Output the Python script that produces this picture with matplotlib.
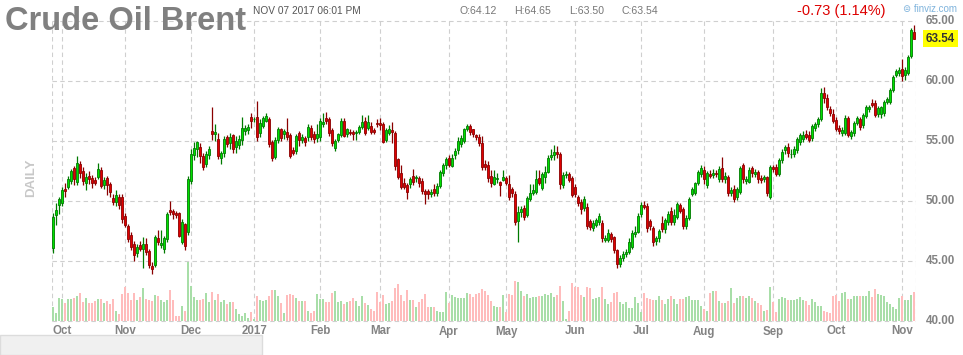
import numpy as np
import pandas as pd
import matplotlib
matplotlib.use('Agg')
import matplotlib.pyplot as plt
from matplotlib.patches import Rectangle

plt.rcParams['font.family'] = ['Liberation Sans', 'DejaVu Sans']

# daily candles, Sep 28 2016 .. Nov 7 2017 (ICE closed Dec 26 and Good Friday)
holidays = ['2016-12-26', '2017-04-14']

opens = [
    46.06, 48.83, 49.67,
    49.86, 50.97, 51.14, 51.69, 52.72, 51.56, 53.08, 52.50, 51.47, 52.08, 51.90, 51.75, 52.03, 52.58, 51.33, 51.90, 51.39, 50.28, 49.94, 50.36, 50.30,
    48.75, 47.92, 47.17, 46.42, 45.64, 46.33, 45.97, 46.42, 45.83, 44.58, 44.67, 46.94, 46.36, 45.97, 46.80, 49.25, 49.20, 48.97, 48.97, 46.61, 48.06, 47.39,
    51.67, 53.83, 54.30, 54.47, 53.78, 53.08, 53.83, 55.83, 55.56, 55.14, 53.60, 53.97, 55.36, 54.80, 55.47, 54.53, 54.67, 55.08, 55.86, 55.90, 56.97,
    56.80, 56.97, 55.64, 56.25, 56.70, 56.80, 54.95, 53.69, 55.08, 55.97, 55.56, 55.78, 55.50, 54.25, 54.19, 55.64, 55.08, 55.22, 55.30, 56.06, 55.56, 55.22,
    55.36, 56.39, 56.89, 56.80, 55.92, 54.39, 55.08, 55.50, 56.67, 55.55, 55.78, 55.72, 55.64, 55.78, 56.14, 56.69, 56.06, 56.25, 55.92, 56.53,
    56.47, 56.39, 55.08, 55.64, 55.92, 55.64, 53.47, 52.31, 51.47, 51.33, 51.39, 52.08, 51.89, 51.89, 51.67, 50.83, 50.83, 50.58, 51.00, 50.64, 51.28, 52.30, 53.00,
    53.61, 52.92, 53.86, 54.25, 54.75, 55.03, 55.97, 56.25, 55.97, 55.50, 55.36, 54.80, 53.08, 53.00, 52.08, 51.42, 51.80, 51.60, 51.75,
    51.94, 51.42, 50.99, 50.58, 48.36, 49.11, 49.44, 48.86, 50.14, 50.69, 50.78, 51.89, 51.06, 52.00, 52.44, 53.70, 53.83, 54.11, 53.90, 51.33, 52.17, 52.25, 51.90,
    51.19, 50.30, 49.94, 49.40, 49.50, 48.30, 47.72, 48.00, 48.28, 48.14, 46.75, 46.75, 47.22, 46.97, 45.90, 44.75, 45.22, 45.60, 45.78, 46.20, 47.25, 47.45,
    48.92, 49.67, 49.60, 48.33, 47.72, 46.69, 46.89, 48.19, 47.64, 48.28, 49.17, 48.28, 48.64, 49.67, 49.30, 47.92, 48.55, 50.58, 50.70, 51.47, 52.25,
    52.60, 51.33, 52.25, 52.17, 52.36, 51.80, 52.72, 51.80, 52.00, 50.64, 50.97, 50.30, 50.78, 53.00, 51.65, 51.60, 52.72, 52.22, 52.39, 51.90, 51.80, 51.97, 50.36,
    52.80, 52.80, 52.25, 53.42, 54.25, 54.53, 53.90, 53.95, 54.25, 54.94, 55.14, 55.55, 55.50, 55.22, 56.06, 56.42, 56.80, 59.03, 58.60, 57.64, 57.25,
    56.75, 56.05, 55.69, 55.64, 56.94, 55.42, 55.64, 56.47, 56.80, 56.33, 57.08, 57.64, 58.14, 58.19, 57.22, 57.25, 57.30, 58.28, 58.28, 59.25, 60.50, 60.64,
    60.97, 60.50, 60.70, 62.08, 64.12,
]

highs = [
    48.97, 49.80, 50.36,
    51.20, 51.50, 52.10, 52.70, 52.90, 53.75, 53.30, 52.80, 52.30, 52.50, 52.20, 52.00, 53.15, 52.80, 52.00, 52.10, 51.60, 50.60, 50.90, 50.60, 50.60,
    49.00, 48.10, 47.40, 46.70, 46.40, 46.70, 47.00, 46.90, 46.00, 44.90, 47.20, 47.60, 47.60, 47.10, 49.10, 50.00, 49.30, 49.20, 49.10, 48.50, 48.20, 52.10,
    54.30, 54.90, 55.00, 54.80, 54.00, 54.20, 54.60, 57.80, 56.40, 55.70, 54.20, 55.40, 55.50, 55.70, 55.60, 55.40, 55.50, 57.00, 56.30, 56.40, 57.30,
    57.00, 58.30, 56.80, 57.10, 57.30, 57.00, 55.10, 55.30, 56.20, 56.10, 56.00, 56.90, 55.70, 54.50, 55.60, 55.80, 55.60, 55.40, 56.40, 56.30, 55.80, 56.40,
    56.90, 57.30, 57.40, 57.00, 56.10, 55.20, 55.70, 56.90, 56.90, 56.10, 56.00, 55.90, 55.90, 56.30, 57.20, 57.00, 57.20, 56.60, 56.10, 56.80,
    56.90, 56.60, 56.10, 56.30, 56.60, 55.80, 53.60, 53.00, 51.90, 51.50, 52.00, 52.70, 52.20, 52.10, 51.90, 51.00, 51.00, 51.00, 51.40, 51.50, 52.60, 53.20, 53.70,
    53.80, 53.90, 54.40, 55.30, 55.50, 56.10, 56.40, 56.40, 56.00, 55.60, 55.60, 55.40, 53.40, 53.30, 52.60, 52.60, 52.30, 51.70, 52.60,
    52.10, 52.20, 51.20, 50.80, 49.60, 49.60, 49.70, 50.40, 51.40, 51.40, 52.60, 52.60, 52.40, 52.90, 53.80, 54.30, 54.70, 54.60, 54.10, 52.40, 52.50, 52.40, 52.10,
    51.40, 50.50, 50.20, 50.40, 49.80, 48.50, 48.40, 48.60, 49.00, 48.40, 47.20, 47.70, 47.40, 47.10, 46.00, 45.50, 45.80, 46.00, 46.90, 47.60, 47.90, 49.00,
    49.90, 50.00, 49.80, 48.50, 47.90, 47.10, 47.70, 48.75, 48.60, 49.20, 49.50, 49.30, 49.90, 49.80, 49.50, 48.80, 50.30, 51.20, 51.60, 52.60, 53.00,
    52.90, 52.50, 52.60, 52.70, 52.60, 52.90, 53.70, 52.40, 52.20, 51.20, 51.30, 51.20, 52.90, 53.20, 52.10, 52.80, 52.90, 52.70, 52.60, 52.20, 52.20, 52.10, 53.00,
    53.00, 53.10, 53.60, 54.30, 54.70, 54.80, 54.30, 54.60, 55.30, 55.70, 55.80, 55.90, 55.80, 56.40, 56.60, 57.00, 59.40, 59.50, 58.90, 57.90, 57.70,
    57.00, 56.30, 56.20, 57.20, 57.10, 55.90, 56.70, 57.10, 57.00, 57.30, 58.00, 58.00, 58.50, 58.40, 57.90, 57.90, 58.40, 58.70, 59.40, 60.50, 61.00, 61.20,
    61.80, 61.20, 62.20, 64.40, 64.65,
]

lows = [
    45.70, 48.00, 48.90,
    49.60, 50.30, 51.00, 51.40, 51.30, 51.30, 51.90, 51.30, 50.90, 51.40, 51.10, 51.30, 51.80, 51.10, 51.00, 50.50, 50.30, 49.70, 49.60, 49.30, 48.20,
    47.80, 46.60, 45.90, 45.00, 45.30, 45.80, 44.40, 45.50, 44.40, 43.90, 44.50, 46.30, 46.10, 45.70, 46.60, 48.80, 48.50, 48.60, 47.00, 46.40, 45.90, 47.20,
    51.40, 53.40, 53.70, 53.20, 52.60, 52.80, 53.50, 55.10, 55.00, 53.50, 53.10, 53.70, 54.50, 54.30, 54.00, 54.00, 54.30, 54.70, 55.50, 55.60, 56.10,
    56.60, 55.00, 55.30, 56.10, 56.60, 54.50, 53.30, 53.50, 54.80, 55.00, 55.20, 55.10, 53.60, 53.80, 53.90, 54.60, 54.80, 54.60, 55.00, 55.10, 54.80, 54.90,
    55.00, 56.20, 56.40, 55.40, 54.60, 54.20, 54.90, 55.30, 55.30, 55.30, 55.50, 55.10, 55.10, 55.60, 56.00, 55.50, 55.90, 55.60, 55.60, 56.20,
    55.90, 54.80, 54.90, 55.50, 54.80, 52.60, 51.80, 51.00, 51.00, 50.20, 51.10, 51.30, 51.60, 51.20, 50.60, 49.75, 50.20, 50.30, 50.40, 50.40, 51.10, 52.10, 52.70,
    52.80, 52.80, 53.50, 53.90, 54.50, 54.80, 55.80, 55.50, 55.30, 55.10, 54.60, 52.60, 52.60, 51.60, 51.20, 51.30, 51.50, 50.40, 51.70,
    51.30, 50.10, 50.30, 48.00, 46.60, 48.70, 48.40, 48.70, 50.00, 50.50, 50.60, 51.30, 50.90, 51.50, 52.30, 53.40, 53.40, 53.60, 51.00, 51.10, 51.90, 51.60, 50.30,
    50.30, 49.60, 48.90, 49.20, 47.70, 47.60, 47.50, 47.80, 48.00, 46.60, 46.60, 46.60, 46.60, 45.70, 44.40, 44.50, 45.00, 45.30, 45.60, 46.00, 47.00, 47.30,
    48.70, 49.30, 47.40, 47.60, 46.25, 46.30, 46.60, 47.40, 47.30, 48.00, 48.00, 48.00, 48.50, 49.00, 47.70, 47.70, 48.40, 50.40, 50.50, 51.30, 52.00,
    51.40, 51.10, 51.90, 51.90, 52.00, 51.60, 51.60, 51.50, 50.40, 50.40, 49.90, 50.10, 50.60, 51.50, 51.40, 51.50, 52.00, 52.00, 51.50, 51.50, 51.60, 50.40, 50.20,
    52.40, 52.10, 52.10, 53.20, 53.90, 53.70, 53.60, 53.70, 54.00, 54.70, 54.90, 55.20, 54.90, 55.00, 55.80, 56.20, 56.70, 58.20, 57.60, 57.10, 56.50,
    55.80, 55.60, 55.40, 55.50, 55.30, 55.20, 55.40, 56.30, 55.90, 56.10, 56.90, 57.40, 57.80, 57.00, 57.00, 56.90, 57.10, 58.10, 58.10, 59.10, 60.30, 60.40,
    60.00, 60.10, 60.50, 61.90, 63.50,
]

closes = [
    48.64, 49.25, 50.14,
    50.92, 50.83, 51.81, 52.50, 51.81, 53.14, 52.30, 51.70, 51.97, 51.81, 51.47, 51.53, 52.64, 51.28, 51.75, 51.36, 50.72, 49.89, 50.50, 49.67, 48.47,
    48.00, 46.81, 46.20, 45.50, 46.14, 45.97, 46.42, 45.72, 44.67, 44.30, 47.03, 46.56, 46.53, 46.89, 48.92, 49.06, 48.92, 48.86, 47.10, 48.22, 46.28, 51.81,
    53.89, 54.39, 54.89, 53.75, 52.86, 53.92, 54.30, 55.56, 55.78, 53.78, 53.97, 55.14, 54.75, 55.30, 54.30, 55.03, 55.14, 56.06, 56.11, 56.14, 56.69,
    56.82, 55.36, 56.47, 56.89, 57.08, 54.75, 53.56, 55.08, 55.97, 55.28, 55.86, 55.36, 53.78, 54.03, 55.44, 55.08, 55.36, 54.94, 56.20, 55.36, 55.14, 55.58,
    56.69, 56.61, 56.69, 55.64, 54.86, 55.00, 55.56, 56.67, 55.42, 55.97, 55.64, 55.55, 55.78, 56.14, 56.60, 55.69, 56.55, 55.78, 55.78, 56.42,
    56.31, 54.94, 55.92, 55.99, 55.78, 52.92, 52.03, 51.19, 51.19, 50.78, 51.80, 51.61, 51.97, 51.47, 50.86, 50.58, 50.58, 50.78, 50.64, 51.28, 52.39, 53.00, 53.50,
    52.99, 53.58, 54.19, 54.97, 55.22, 55.97, 56.25, 55.72, 55.58, 55.36, 54.81, 52.80, 52.86, 51.89, 51.47, 52.03, 51.90, 51.33, 52.03,
    51.47, 50.36, 50.69, 48.28, 49.11, 49.36, 48.64, 50.22, 50.69, 50.92, 51.80, 51.53, 52.22, 52.44, 53.55, 53.83, 54.11, 53.90, 51.42, 52.17, 52.28, 51.75, 50.50,
    50.58, 49.86, 49.30, 50.14, 47.92, 47.86, 48.14, 48.42, 48.75, 46.89, 46.89, 47.36, 46.80, 45.92, 44.75, 45.22, 45.58, 45.78, 46.60, 47.36, 47.45, 48.75,
    49.67, 49.53, 47.72, 47.92, 46.61, 46.89, 47.50, 47.64, 48.42, 48.92, 48.28, 48.83, 49.75, 49.20, 47.92, 48.55, 50.14, 50.97, 51.47, 52.44, 52.72,
    51.80, 52.36, 52.08, 52.36, 52.25, 52.64, 51.80, 52.08, 50.64, 50.90, 50.14, 50.97, 52.72, 51.80, 51.80, 52.58, 52.30, 52.44, 51.80, 51.75, 51.97, 50.64, 52.80,
    52.64, 52.25, 53.42, 54.11, 54.47, 54.00, 53.95, 54.30, 55.14, 55.50, 55.50, 55.36, 55.08, 56.25, 56.42, 56.83, 59.03, 58.55, 57.80, 57.30, 56.70,
    55.97, 55.86, 55.89, 56.94, 55.50, 55.78, 56.53, 56.89, 56.14, 57.17, 57.80, 57.80, 58.00, 57.17, 57.72, 57.80, 58.28, 58.50, 59.25, 60.36, 60.83, 60.92,
    60.42, 60.92, 62.03, 64.27, 63.54,
]

volumes = [
    126, 75, 207,
    198, 165, 198, 198, 210, 225, 252, 174, 207, 165, 165, 183, 198, 198, 165, 180, 156, 198, 93, 66, 240,
    309, 252, 186, 252, 186, 216, 300, 195, 186, 177, 237, 228, 189, 168, 189, 282, 189, 48, 48, 135, 90, 531,
    315, 219, 189, 189, 198, 249, 174, 258, 189, 240, 174, 189, 156, 174, 174, 108, 63, 48, 75, 24, 78,
    15, 225, 189, 183, 186, 225, 282, 279, 228, 162, 75, 231, 246, 237, 207, 177, 177, 180, 90, 69, 90, 243,
    198, 198, 171, 171, 249, 270, 171, 180, 153, 174, 183, 210, 183, 138, 222, 159, 147, 105, 90, 258,
    168, 237, 156, 165, 183, 300, 333, 237, 183, 282, 192, 189, 129, 171, 195, 240, 129, 129, 123, 93, 84, 78, 261,
    165, 237, 219, 204, 207, 210, 252, 240, 216, 243, 249, 285, 270, 234, 180, 138, 126, 126, 234,
    81, 246, 237, 360, 348, 270, 225, 243, 204, 213, 219, 225, 225, 246, 234, 249, 219, 237, 315, 180, 18, 90, 339,
    309, 309, 234, 219, 303, 300, 195, 204, 213, 309, 195, 156, 171, 255, 261, 168, 150, 168, 114, 114, 216, 162,
    81, 252, 207, 195, 186, 186, 225, 192, 153, 198, 228, 201, 153, 195, 195, 213, 225, 189, 189, 189, 135,
    105, 93, 255, 267, 273, 183, 165, 159, 177, 297, 159, 207, 225, 225, 207, 225, 207, 180, 165, 144, 93, 99, 306,
    171, 84, 195, 213, 204, 189, 189, 189, 195, 213, 189, 183, 144, 195, 174, 138, 138, 93, 84, 75, 225,
    234, 183, 249, 261, 198, 195, 225, 225, 225, 225, 225, 270, 213, 288, 246, 234, 225, 171, 150, 129, 108, 204,
    225, 189, 189, 234, 261,
]

dates = pd.bdate_range('2016-09-28', '2017-11-07', freq='C', holidays=holidays)
n = min(len(dates), len(closes))
dates = dates[:n]
o = np.array(opens[:n])
h = np.array(highs[:n])
l = np.array(lows[:n])
c = np.array(closes[:n])
v = np.array(volumes[:n])
x = np.arange(n)

W, H = 963, 355
fig = plt.figure(figsize=(W / 100, H / 100), dpi=100)
fig.patch.set_facecolor('white')
rect = [52 / W, (H - 325) / H, 864 / W, 325 / H]
ax = fig.add_axes(rect)
axv = fig.add_axes(rect, facecolor='none')
xmin, xmax = -1 / 3, n - 1 + 2 / 3
for a in (ax, axv):
    a.set_xlim(xmin, xmax)
    a.set_axis_off()
ax.set_ylim(40 - 4 / 12, 65 + 21 / 12)
axv.set_ylim(-36, 2889)

# grid
gcol = '#cfcfcf'
dash = (0, (4, 3))
ax.hlines(np.arange(40, 66, 5), xmin, xmax, colors=gcol, lw=0.8, linestyles=dash, zorder=0)
month_start = [i for i in range(1, n) if dates[i].month != dates[i - 1].month]
month_lbl = ['2017' if dates[i].month == 1 else dates[i].strftime('%b') for i in month_start]
ax.vlines(month_start + [xmin + 0.02, xmax - 0.02], 40, 65, colors=gcol, lw=0.8,
          linestyles=dash, zorder=0)

# volume
up = c >= o
axv.bar(x, v, width=0.95, color=np.where(up, '#a8dea8', '#ffbcbc'), linewidth=0, zorder=1)

# candles
wick = np.where(up, '#007a00', '#8a0000')
ax.vlines(x, l, h, colors=wick, lw=0.9, zorder=2)
body_b = np.minimum(o, c)
body_h = np.maximum(np.abs(c - o), 0.05)
ax.bar(x, body_h, bottom=body_b, width=0.78, color=np.where(up, '#00e000', '#e00000'),
       edgecolor=wick, linewidth=0.6, zorder=3)

# axis labels
lab_col = '#838383'
for i, s in zip(month_start, month_lbl):
    ax.text(i, -0.02, s, transform=ax.get_xaxis_transform(), ha='center', va='center',
            fontsize=8.3, fontweight='bold', color=lab_col)
for p in range(40, 66, 5):
    ax.text(1.0116, p, f'{p:.2f}', transform=ax.get_yaxis_transform(), ha='left',
            va='center', fontsize=8.4, fontweight='bold', color=lab_col)
ax.text(1.0116, c[-1], f'{c[-1]:.2f}', transform=ax.get_yaxis_transform(), ha='left',
        va='center', fontsize=8.4, fontweight='bold', color='#333333',
        bbox=dict(boxstyle='square,pad=0.22', fc='#ffff00', ec='none'))

# header
fig.text(5 / W, 1 - 30 / H, 'Crude Oil Brent', fontsize=23.5, fontweight='bold',
         color='#808080', va='baseline', ha='left')
fig.text(253 / W, 1 - 11 / H, 'NOV 07 2017 06:01 PM', fontsize=7.3, color='#555555',
         va='center', ha='left')
for xp, s in [(459, f'O:{o[-1]:.2f}'), (514, f'H:{h[-1]:.2f}'),
              (569, f'L:{l[-1]:.2f}'), (621, f'C:{c[-1]:.2f}')]:
    fig.text(xp / W, 1 - 11 / H, s, fontsize=7.6, color='#777777', va='center', ha='left')
chg = c[-1] - c[-2]
fig.text(885 / W, 1 - 11 / H, f'{chg:.2f} ({abs(chg) / c[-2] * 100:.2f}%)', fontsize=10.5,
         color='#dd0000', va='center', ha='right')
fig.text(903 / W, 1 - 9 / H, '⊜ finviz.com', fontsize=7, color='#7eb3dc',
         va='center', ha='left')
fig.text(31 / W, 1 - 178 / H, 'DAILY', rotation=90, fontsize=9.5, fontweight='bold',
         color='#c8c8c8', va='center', ha='center')

# grey panel bottom-left
fig.patches.append(Rectangle((0, 0), 262 / W, 20 / H, transform=fig.transFigure,
                             facecolor='#f0f0f0', edgecolor='#dcdcdc', lw=1))

fig.savefig('out.png', dpi=100)
